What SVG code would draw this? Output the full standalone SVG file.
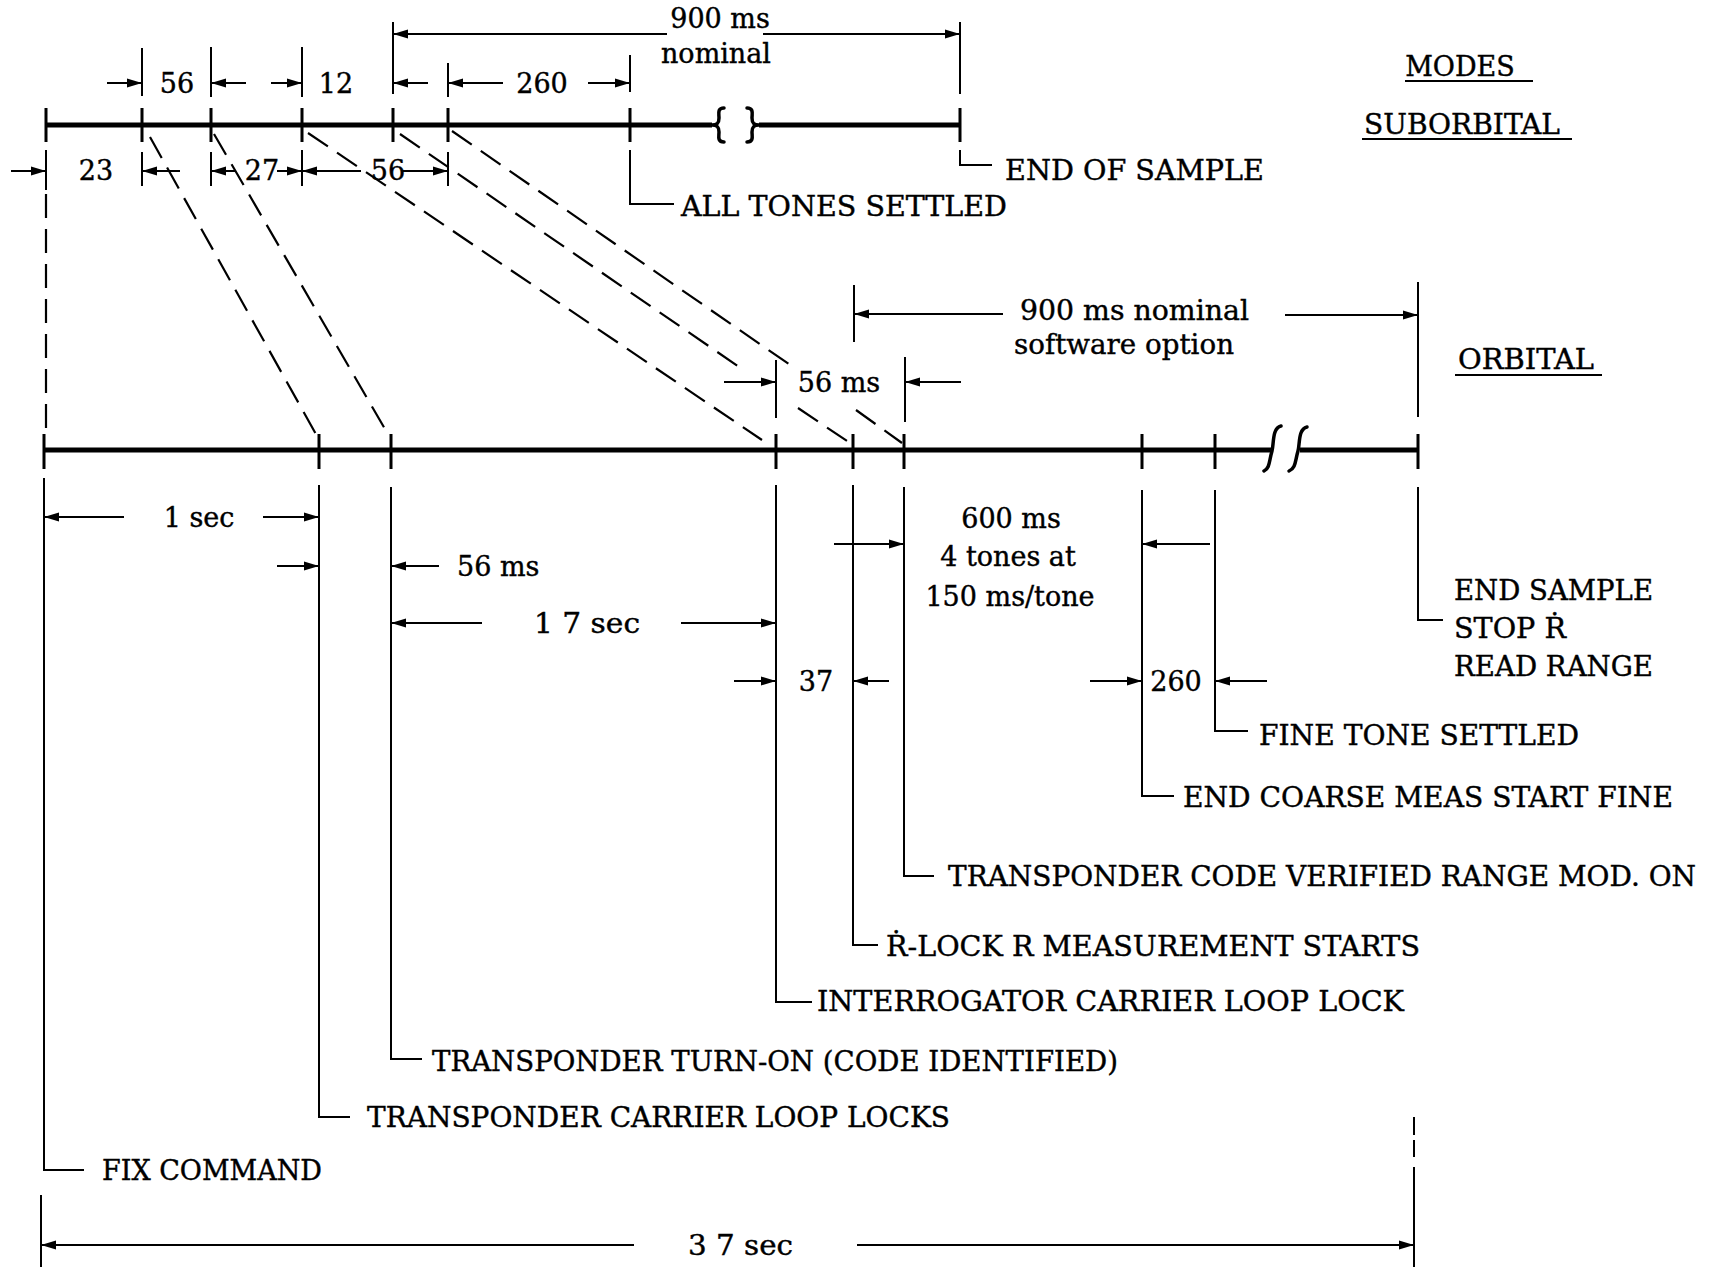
<svg xmlns="http://www.w3.org/2000/svg" width="1717" height="1267" viewBox="0 0 1717 1267">
<style>
text{font-family:"DejaVu Serif","Liberation Serif",serif;font-size:27px;fill:#000;stroke:#000;stroke-width:0.4}
.m{text-anchor:middle}
.tl{stroke:#000;stroke-width:5;fill:none}
.tk{stroke:#000;stroke-width:3;fill:none}
.ln{stroke:#000;stroke-width:2;fill:none}
.ar{stroke:#000;stroke-width:2;fill:none;marker-end:url(#ah)}
.ds{stroke:#000;stroke-width:2.2;fill:none;stroke-dasharray:24 11}
.br{stroke:#000;stroke-width:3.5;fill:none;stroke-linecap:round;stroke-linejoin:round}
</style>
<defs>
<marker id="ah" markerWidth="16" markerHeight="11" refX="15" refY="5.5" orient="auto" markerUnits="userSpaceOnUse"><path d="M0,1 L15,5.5 L0,10 z" fill="#000"/></marker>
</defs>
<rect width="1717" height="1267" fill="#fff"/>

<g id="suborbital-timeline">
<path class="tl" d="M46,125 H712 M759,125 H960"/>
<path class="tk" d="M46,108V142 M142,108V142 M211,108V142 M302,108V142 M393,108V142 M448,108V142 M630,108V142 M960,108V142"/>
<path class="br" d="M724,108 C717,108 719,114 719,118 C719,123 717,125 712,125 C717,125 719,127 719,132 C719,136 717,142 724,142"/>
<path class="br" d="M747,108 C754,108 752,114 752,118 C752,123 754,125 759,125 C754,125 752,127 752,132 C752,136 754,142 747,142"/>
</g>

<g id="orbital-timeline">
<path class="tl" d="M44,450 H1272 M1300,450 H1418"/>
<path class="tk" d="M44,434V469 M319,434V469 M391,434V469 M776,434V469 M853,434V469 M904,434V469 M1142,434V469 M1215,434V469 M1418,434V469"/>
<path class="br" d="M1281,426 C1272,428 1274,444 1272,451 C1269,461 1270,468 1264,471"/>
<path class="br" d="M1307,427 C1298,429 1300,444 1298,451 C1295,461 1296,468 1289,471"/>
</g>

<g id="connectors">
<path class="ln" d="M142,48V96 M211,47V97 M302,47V97 M393,22V94 M448,63V97 M630,55V92 M960,22V94"/>
<path class="ln" d="M46,150V190 M142,152V186 M211,152V186 M302,150V186 M448,152V186"/>
<line class="ar" x1="667" y1="34" x2="393" y2="34"/>
<line class="ar" x1="763" y1="34" x2="960" y2="34"/>
<line class="ar" x1="107" y1="83" x2="142" y2="83"/>
<line class="ar" x1="246" y1="83" x2="211" y2="83"/>
<line class="ar" x1="271" y1="83" x2="302" y2="83"/>
<line class="ar" x1="428" y1="83" x2="393" y2="83"/>
<line class="ar" x1="503" y1="83" x2="448" y2="83"/>
<line class="ar" x1="588" y1="83" x2="630" y2="83"/>
<line class="ar" x1="11" y1="171" x2="46" y2="171"/>
<line class="ar" x1="180" y1="171" x2="142" y2="171"/>
<line class="ar" x1="236" y1="171" x2="211" y2="171"/>
<line class="ar" x1="277" y1="171" x2="302" y2="171"/>
<line class="ar" x1="361" y1="171" x2="302" y2="171"/>
<line class="ar" x1="402" y1="171" x2="448" y2="171"/>
<path class="ds" d="M46,194 V430"/>
<path class="ds" d="M150,137 L317,436"/>
<path class="ds" d="M214,134 L389,436"/>
<path class="ds" d="M308,133 L762,440"/>
<path class="ds" d="M400,134 L745,371"/>
<path class="ds" d="M798,408 L850,443"/>
<path class="ds" d="M452,131 L796,369"/>
<path class="ds" d="M856,410 L902,443"/>
<path class="ln" d="M854,285V342 M1418,282V417 M776,360V418 M905,357V422"/>
<line class="ar" x1="1003" y1="314" x2="854" y2="314"/>
<line class="ar" x1="1285" y1="315" x2="1418" y2="315"/>
<line class="ar" x1="724" y1="382" x2="776" y2="382"/>
<line class="ar" x1="961" y1="382" x2="905" y2="382"/>
<line class="ar" x1="124" y1="517" x2="44" y2="517"/>
<line class="ar" x1="263" y1="517" x2="319" y2="517"/>
<line class="ar" x1="277" y1="566" x2="319" y2="566"/>
<line class="ar" x1="439" y1="566" x2="391" y2="566"/>
<line class="ar" x1="482" y1="623" x2="391" y2="623"/>
<line class="ar" x1="681" y1="623" x2="776" y2="623"/>
<line class="ar" x1="734" y1="681" x2="776" y2="681"/>
<line class="ar" x1="889" y1="681" x2="853" y2="681"/>
<line class="ar" x1="834" y1="544" x2="904" y2="544"/>
<line class="ar" x1="1210" y1="544" x2="1142" y2="544"/>
<line class="ar" x1="1090" y1="681" x2="1142" y2="681"/>
<line class="ar" x1="1267" y1="681" x2="1215" y2="681"/>
<path class="ln" d="M41,1195V1267"/>
<path class="ln" d="M1414,1117V1135 M1414,1140V1157 M1414,1167V1267"/>
<line class="ar" x1="634" y1="1245" x2="41" y2="1245"/>
<line class="ar" x1="857" y1="1245" x2="1414" y2="1245"/>
</g>

<g id="labels-modes">
<text class="m" x="1460" y="76">MODES</text>
<path class="ln" d="M1405,81 H1533"/>
<text class="m" x="1462" y="134" textLength="196" lengthAdjust="spacingAndGlyphs">SUBORBITAL</text>
<path class="ln" d="M1362,139 H1572"/>
<text class="m" x="1526" y="369" textLength="136" lengthAdjust="spacingAndGlyphs">ORBITAL</text>
<path class="ln" d="M1455,375 H1602"/>
</g>

<g id="sub-dimensions">
<text class="m" x="720" y="28">900 ms</text>
<text class="m" x="716" y="63">nominal</text>
<text class="m" x="177" y="93">56</text>
<text class="m" x="336" y="93">12</text>
<text class="m" x="542" y="93">260</text>
<text class="m" x="96" y="180">23</text>
<text class="m" x="262" y="180">27</text>
<text class="m" x="388" y="180">56</text>
</g>

<g id="end-of-sample">
<path class="ln" d="M960,150 V165 H992"/>
<text x="1005" y="180" textLength="259" lengthAdjust="spacingAndGlyphs">END OF SAMPLE</text>
</g>
<g id="all-tones-settled">
<path class="ln" d="M630,150 V204 H674"/>
<text x="681" y="216" textLength="326" lengthAdjust="spacingAndGlyphs">ALL TONES SETTLED</text>
</g>

<g id="orb-dimensions">
<text x="1020" y="320" textLength="229" lengthAdjust="spacingAndGlyphs">900 ms nominal</text>
<text x="1014" y="354" textLength="220" lengthAdjust="spacingAndGlyphs">software option</text>
<text class="m" x="839" y="392">56 ms</text>
<text class="m" x="199" y="527">1 sec</text>
<text x="457" y="576">56 ms</text>
<text x="534" y="633" textLength="106" lengthAdjust="spacingAndGlyphs">1 7 sec</text>
<text class="m" x="816" y="691">37</text>
<text class="m" x="1011" y="528">600 ms</text>
<text class="m" x="1008" y="566">4 tones at</text>
<text class="m" x="1010" y="606">150 ms/tone</text>
<text class="m" x="1176" y="691">260</text>
<text x="688" y="1255" textLength="105" lengthAdjust="spacingAndGlyphs">3 7 sec</text>
</g>

<g id="end-sample">
<path class="ln" d="M1418,487 V620 H1443"/>
<text x="1454" y="600" textLength="199" lengthAdjust="spacingAndGlyphs">END SAMPLE</text>
<text x="1454" y="638" textLength="112" lengthAdjust="spacingAndGlyphs">STOP Ṙ</text>
<text x="1454" y="676" textLength="199" lengthAdjust="spacingAndGlyphs">READ RANGE</text>
</g>
<g id="fine-tone-settled">
<path class="ln" d="M1215,490 V731 H1248"/>
<text x="1259" y="745" textLength="320" lengthAdjust="spacingAndGlyphs">FINE TONE SETTLED</text>
</g>
<g id="end-coarse">
<path class="ln" d="M1142,490 V796 H1174"/>
<text x="1183" y="807" textLength="490" lengthAdjust="spacingAndGlyphs">END COARSE MEAS START FINE</text>
</g>
<g id="code-verified">
<path class="ln" d="M904,487 V876 H934"/>
<text x="948" y="886" textLength="748" lengthAdjust="spacingAndGlyphs">TRANSPONDER CODE VERIFIED RANGE MOD. ON</text>
</g>
<g id="r-lock">
<path class="ln" d="M853,485 V945 H878"/>
<text x="886" y="956" textLength="534" lengthAdjust="spacingAndGlyphs">Ṙ-LOCK R MEASUREMENT STARTS</text>
</g>
<g id="interrogator-lock">
<path class="ln" d="M776,485 V1002 H812"/>
<text x="817" y="1011" textLength="587" lengthAdjust="spacingAndGlyphs">INTERROGATOR CARRIER LOOP LOCK</text>
</g>
<g id="transponder-turn-on">
<path class="ln" d="M391,487 V1059 H422"/>
<text x="432" y="1071" textLength="686" lengthAdjust="spacingAndGlyphs">TRANSPONDER TURN-ON (CODE IDENTIFIED)</text>
</g>
<g id="transponder-carrier-lock">
<path class="ln" d="M319,485 V1117 H350"/>
<text x="367" y="1127" textLength="583" lengthAdjust="spacingAndGlyphs">TRANSPONDER CARRIER LOOP LOCKS</text>
</g>
<g id="fix-command">
<path class="ln" d="M44,478 V1170 H84"/>
<text x="102" y="1180" textLength="220" lengthAdjust="spacingAndGlyphs">FIX COMMAND</text>
</g>
</svg>
